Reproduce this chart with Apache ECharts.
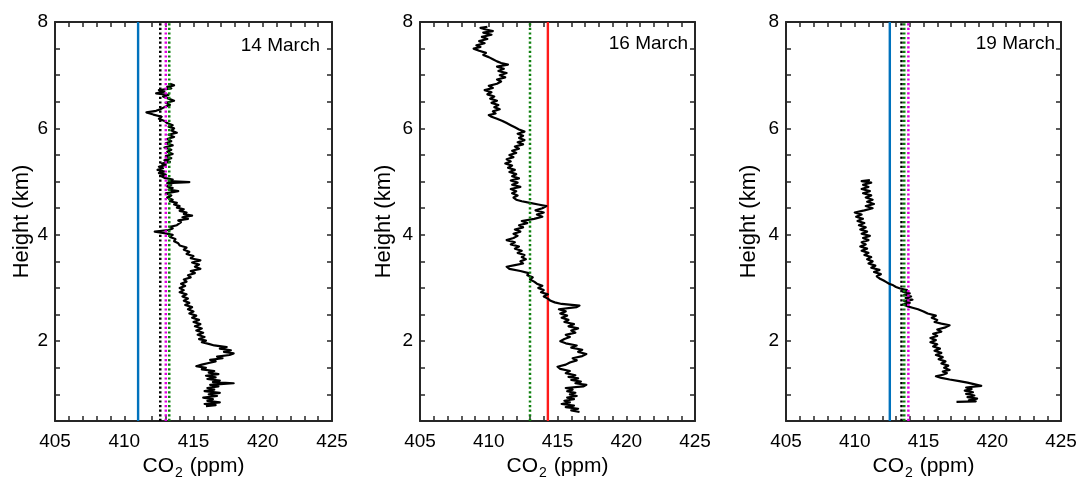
<!DOCTYPE html>
<html>
<head>
<meta charset="utf-8">
<script src="https://cdn.jsdelivr.net/npm/echarts@6/dist/echarts.min.js"></script>
<style>html,body{margin:0;padding:0;background:#fff;}#c{width:1078px;height:479px;}</style>
</head>
<body>
<div id="c"></div>
<script>
// ---------- DATA ----------
var panelTitles = ['14 March', '16 March', '19 March'];
var xTickLabels = [405, 410, 415, 420, 425];
var yTickLabels = [2, 4, 6, 8];
var X_MIN = 405, X_MAX = 425, Y_MIN = 0.5, Y_MAX = 8;

// profile pairs: [height km, CO2 ppm]
var profile14 = [
[0.78,415.9],[0.80,416.6],[0.82,415.8],[0.85,416.9],[0.88,416.0],[0.91,416.4],[0.94,415.7],[0.97,416.7],[1.00,416.1],[1.03,416.9],
[1.06,415.8],[1.09,416.5],[1.12,416.0],[1.15,416.8],[1.18,416.2],[1.21,417.9],[1.23,416.4],[1.26,416.9],[1.29,416.0],[1.32,416.6],
[1.35,415.9],[1.38,416.8],[1.41,416.1],[1.44,416.5],[1.47,415.6],[1.50,415.9],[1.53,415.2],[1.56,415.6],[1.59,416.1],[1.62,416.6],
[1.65,416.2],[1.68,417.1],[1.71,416.7],[1.74,417.6],[1.77,417.9],[1.80,417.2],[1.83,417.7],[1.86,416.9],[1.89,417.4],[1.92,416.5],
[1.95,416.1],[1.98,415.6],[2.01,415.9],[2.04,415.4],[2.08,415.8],[2.12,415.3],[2.16,415.7],[2.20,415.2],[2.24,415.6],[2.28,415.1],
[2.32,415.5],[2.36,415.0],[2.40,415.4],[2.44,414.9],[2.48,415.2],[2.52,414.7],[2.56,415.0],[2.60,414.6],[2.64,414.9],[2.68,414.4],
[2.72,414.7],[2.76,414.3],[2.80,414.6],[2.84,414.2],[2.88,414.5],[2.92,414.0],[2.96,414.3],[3.00,414.0],[3.04,414.4],[3.08,414.1],
[3.12,414.5],[3.16,414.3],[3.20,414.8],[3.24,414.6],[3.28,415.1],[3.32,414.8],[3.36,415.5],[3.40,415.1],[3.44,415.4],[3.48,414.9],
[3.52,415.5],[3.56,414.8],[3.60,415.0],[3.64,414.5],[3.68,414.7],[3.72,414.3],[3.76,414.5],[3.80,414.0],[3.84,413.9],[3.88,413.6],
[3.92,413.7],[3.96,413.3],[4.00,413.5],[4.03,412.9],[4.06,412.2],[4.09,413.2],[4.12,413.5],[4.15,413.3],[4.18,413.8],[4.21,413.7],
[4.24,414.1],[4.27,413.9],[4.30,414.6],[4.33,414.2],[4.36,414.9],[4.39,414.3],[4.42,414.5],[4.45,414.0],[4.48,414.3],[4.51,413.8],
[4.54,414.0],[4.57,413.6],[4.60,413.8],[4.63,413.3],[4.66,413.5],[4.70,413.1],[4.74,413.4],[4.78,413.0],[4.82,413.9],[4.85,413.2],
[4.88,413.5],[4.91,413.1],[4.94,413.4],[4.97,413.1],[4.99,414.7],[5.01,413.2],[5.04,413.5],[5.07,412.9],[5.10,412.7],[5.13,413.0],
[5.16,412.5],[5.19,412.9],[5.22,412.4],[5.25,412.8],[5.28,412.5],[5.31,413.0],[5.34,412.7],[5.37,413.3],[5.40,412.9],[5.44,413.4],
[5.48,413.0],[5.52,413.5],[5.56,413.1],[5.60,413.4],[5.64,412.9],[5.68,413.5],[5.72,413.0],[5.76,413.4],[5.80,413.1],[5.84,413.6],
[5.88,413.2],[5.92,413.8],[5.96,413.4],[6.00,413.6],[6.03,413.2],[6.06,413.5],[6.10,413.1],[6.14,412.9],[6.18,412.5],[6.22,412.7],
[6.26,412.1],[6.30,411.6],[6.33,412.3],[6.36,412.6],[6.40,412.9],[6.44,413.3],[6.48,413.0],[6.52,413.6],[6.56,413.2],[6.60,412.8],
[6.63,413.2],[6.66,412.3],[6.69,412.9],[6.72,412.5],[6.75,413.4],[6.78,413.1],[6.81,413.6],[6.84,413.3]
];

var profile16 = [
[0.67,416.6],[0.70,416.0],[0.73,416.5],[0.76,415.6],[0.79,416.2],[0.82,415.3],[0.85,415.9],[0.88,415.5],[0.91,416.2],[0.94,415.7],
[0.97,416.4],[1.00,415.9],[1.03,416.3],[1.06,415.7],[1.09,416.1],[1.12,415.6],[1.15,416.9],[1.18,417.1],[1.21,416.3],[1.24,416.7],
[1.27,416.0],[1.30,416.5],[1.33,415.8],[1.36,416.3],[1.40,415.6],[1.44,415.9],[1.48,415.2],[1.52,415.0],[1.56,415.6],[1.60,415.9],
[1.64,416.4],[1.68,416.1],[1.72,416.8],[1.76,417.1],[1.80,416.5],[1.84,416.8],[1.88,416.0],[1.92,416.4],[1.96,415.6],[2.00,415.2],
[2.04,415.5],[2.08,415.9],[2.12,415.6],[2.16,416.3],[2.20,416.0],[2.24,416.5],[2.28,415.8],[2.32,416.2],[2.36,415.5],[2.40,415.8],
[2.44,415.3],[2.48,415.7],[2.52,415.2],[2.56,415.6],[2.60,415.1],[2.64,416.4],[2.67,416.6],[2.70,415.3],[2.73,414.8],[2.76,414.5],
[2.80,414.3],[2.84,414.0],[2.88,414.3],[2.92,413.8],[2.96,414.0],[3.00,413.6],[3.04,413.9],[3.08,413.5],[3.12,413.3],[3.16,413.0],
[3.20,413.2],[3.24,412.8],[3.28,412.9],[3.32,412.3],[3.36,411.5],[3.40,411.3],[3.43,411.9],[3.46,412.5],[3.50,412.3],[3.54,412.7],
[3.58,412.4],[3.62,412.6],[3.66,412.1],[3.70,412.4],[3.74,411.9],[3.78,412.2],[3.82,411.6],[3.86,411.9],[3.90,411.3],[3.94,411.8],
[3.98,412.1],[4.02,411.8],[4.06,412.3],[4.10,411.9],[4.14,412.5],[4.18,412.2],[4.22,412.8],[4.26,412.4],[4.30,413.3],[4.34,413.9],
[4.38,413.5],[4.42,414.0],[4.46,413.4],[4.50,413.9],[4.54,414.2],[4.57,413.6],[4.60,413.0],[4.63,412.4],[4.66,412.0],[4.70,411.8],
[4.74,412.1],[4.78,411.7],[4.82,412.0],[4.86,411.6],[4.90,412.3],[4.94,411.7],[4.98,412.1],[5.02,411.6],[5.06,412.2],[5.10,411.7],
[5.14,412.0],[5.18,411.5],[5.22,411.9],[5.26,411.4],[5.30,411.7],[5.34,411.2],[5.38,411.6],[5.42,411.3],[5.46,411.8],[5.50,411.5],
[5.54,412.0],[5.58,411.7],[5.62,412.2],[5.66,411.9],[5.70,412.5],[5.74,412.1],[5.78,412.6],[5.82,412.2],[5.86,412.5],[5.90,412.1],
[5.94,412.6],[5.98,412.2],[6.02,411.9],[6.06,411.6],[6.10,411.3],[6.14,411.0],[6.18,410.6],[6.22,410.2],[6.25,410.0],[6.28,410.5],
[6.32,410.3],[6.36,410.8],[6.40,410.4],[6.44,410.7],[6.48,410.2],[6.52,410.6],[6.56,410.1],[6.60,410.4],[6.64,409.9],[6.68,410.2],
[6.72,409.7],[6.76,410.3],[6.80,410.0],[6.84,410.6],[6.88,410.9],[6.92,410.6],[6.96,411.2],[7.00,410.8],[7.04,411.3],[7.08,410.7],
[7.12,411.1],[7.16,410.6],[7.20,411.4],[7.23,410.9],[7.26,410.6],[7.30,410.3],[7.34,410.0],[7.38,409.6],[7.42,409.8],[7.46,409.3],
[7.50,408.9],[7.53,409.4],[7.56,409.1],[7.60,409.7],[7.64,409.3],[7.68,409.9],[7.72,409.5],[7.76,410.2],[7.80,409.6],[7.83,410.3],
[7.86,409.8],[7.89,409.4],[7.91,409.9]
];

var profile19 = [
[0.86,417.4],[0.87,418.8],[0.89,418.3],[0.92,418.9],[0.95,418.2],[0.98,418.7],[1.01,418.1],[1.04,418.6],[1.07,418.0],[1.10,418.5],
[1.13,418.1],[1.16,419.2],[1.19,419.3],[1.22,418.2],[1.25,417.6],[1.28,416.9],[1.31,416.3],[1.34,415.9],[1.37,416.4],[1.40,416.7],
[1.43,416.4],[1.46,416.9],[1.50,416.5],[1.54,416.8],[1.58,416.3],[1.62,416.6],[1.66,416.1],[1.70,416.4],[1.74,415.9],[1.78,416.3],
[1.82,415.8],[1.86,416.2],[1.90,415.7],[1.94,416.0],[1.98,415.5],[2.02,415.9],[2.06,415.5],[2.10,416.0],[2.14,415.7],[2.18,416.3],
[2.22,416.0],[2.26,416.6],[2.30,416.9],[2.33,416.3],[2.36,415.8],[2.40,416.0],[2.44,415.6],[2.48,415.9],[2.52,415.3],[2.56,415.0],
[2.60,414.6],[2.63,414.2],[2.66,413.8],[2.69,413.5],[2.72,414.0],[2.75,413.6],[2.78,414.2],[2.81,413.7],[2.84,414.1],[2.87,413.6],
[2.90,414.0],[2.93,413.5],[2.96,413.8],[2.99,413.3],[3.02,413.0],[3.05,412.8],[3.08,412.5],[3.11,412.3],[3.14,412.1],[3.18,411.8],
[3.22,411.6],[3.26,411.9],[3.30,411.4],[3.34,411.8],[3.38,411.2],[3.42,411.5],[3.46,411.0],[3.50,411.3],[3.54,410.9],[3.58,411.2],
[3.62,410.7],[3.66,411.0],[3.70,410.5],[3.74,410.9],[3.78,410.4],[3.82,410.8],[3.86,410.5],[3.90,411.0],[3.94,410.6],[3.98,411.1],
[4.02,410.5],[4.06,410.9],[4.10,410.4],[4.14,410.8],[4.18,410.3],[4.22,410.7],[4.26,410.2],[4.30,410.6],[4.34,410.1],[4.38,410.5],
[4.42,410.0],[4.46,410.7],[4.50,411.3],[4.54,410.8],[4.58,411.4],[4.62,410.9],[4.66,411.3],[4.70,410.8],[4.74,411.2],[4.78,410.6],
[4.82,411.1],[4.86,410.5],[4.90,411.0],[4.94,410.6],[4.98,411.2],[5.01,410.5],[5.03,411.1]
];

// reference lines (CO2 ppm)
var solidRefs = [
  [{value: 411.0, color: '#0072BD'}],
  [{value: 414.3, color: '#FF1A1A'}],
  [{value: 412.55, color: '#0072BD'}]
];
var dottedRefs = [
  [{value: 412.6, color: '#000000'}, {value: 413.0, color: '#E000E0'}, {value: 413.25, color: '#0F800F'}],
  [{value: 413.0, color: '#0F800F'}],
  [{value: 413.4, color: '#000000'}, {value: 413.9, color: '#E000E0'}, {value: 413.6, color: '#0F800F'}]
];
var profiles = [profile14, profile16, profile19];

// ---------- CHART ----------
var gridLefts = [55, 420, 786];
var gridWidths = [277, 275, 275];
var yNameGaps = [22, 25, 26];
var titleRight = [320, 688, 1055];
var titleY = [46, 44, 44];

var xTicks = [], yTicks = [];
for (var t = X_MIN; t <= X_MAX; t++) xTicks.push(t);
for (var u = 1; u <= Y_MAX; u += 0.5) yTicks.push(u);

var AX = '#262626';
var FONT = 'Liberation Sans, Arial, sans-serif';

var grids = [], xAxes = [], yAxes = [], series = [], graphics = [];
for (var i = 0; i < 3; i++) {
  grids.push({left: gridLefts[i], top: 22, width: gridWidths[i], height: 399, containLabel: false, outerBoundsMode: 'none'});
  var common = {
    axisLine: {show: true, lineStyle: {color: AX, width: 2}},
    splitLine: {show: false}
  };
  // bottom x
  xAxes.push(Object.assign({}, common, {
    type: 'value', gridIndex: i, position: 'bottom', min: X_MIN, max: X_MAX, interval: 5,
    axisTick: {show: true, inside: true, length: 5, lineStyle: {color: AX, width: 1.5}, customValues: xTicks},
    axisLabel: {show: true, fontSize: 19, color: '#000', fontFamily: FONT, margin: 11, customValues: xTickLabels},
    name: '{a|CO}{b|2}{a| (ppm)}', nameLocation: 'middle', nameGap: 31,
    nameTextStyle: {fontFamily: FONT, color: '#000', rich: {
      a: {fontSize: 21, fontFamily: FONT, color: '#000'},
      b: {fontSize: 14, fontFamily: FONT, color: '#000', padding: [14, 1, 0, 1]}
    }}
  }));
  // top x (mirror)
  xAxes.push(Object.assign({}, common, {
    type: 'value', gridIndex: i, position: 'top', min: X_MIN, max: X_MAX, interval: 5,
    axisTick: {show: true, inside: true, length: 5, lineStyle: {color: AX, width: 1.5}, customValues: xTicks},
    axisLabel: {show: false}
  }));
  // left y
  yAxes.push(Object.assign({}, common, {
    type: 'value', gridIndex: i, position: 'left', min: Y_MIN, max: Y_MAX,
    axisTick: {show: true, inside: true, length: 5, lineStyle: {color: AX, width: 1.5}, customValues: yTicks},
    axisLabel: {show: true, fontSize: 19, color: '#000', fontFamily: FONT, margin: 7, customValues: yTickLabels},
    name: 'Height (km)', nameLocation: 'middle', nameGap: yNameGaps[i],
    nameTextStyle: {fontSize: 22, color: '#000', fontFamily: FONT}
  }));
  // right y (mirror)
  yAxes.push(Object.assign({}, common, {
    type: 'value', gridIndex: i, position: 'right', min: Y_MIN, max: Y_MAX,
    axisTick: {show: true, inside: true, length: 5, lineStyle: {color: AX, width: 1.5}, customValues: yTicks},
    axisLabel: {show: false}
  }));

  var xi = i * 2, yi = i * 2;
  solidRefs[i].forEach(function (r) {
    series.push({type: 'line', xAxisIndex: xi, yAxisIndex: yi, data: [[r.value, Y_MIN], [r.value, Y_MAX]],
      showSymbol: false, symbol: 'none', silent: true, z: 2,
      lineStyle: {color: r.color, width: 2.4}});
  });
  series.push({type: 'line', xAxisIndex: xi, yAxisIndex: yi,
    data: profiles[i].map(function (p) { return [p[1], p[0]]; }),
    showSymbol: false, symbol: 'none', silent: true, z: 3,
    lineStyle: {color: '#000', width: 2.2, join: 'round'}});
  dottedRefs[i].forEach(function (r) {
    series.push({type: 'line', xAxisIndex: xi, yAxisIndex: yi, data: [[r.value, Y_MIN], [r.value, Y_MAX]],
      showSymbol: false, symbol: 'none', silent: true, z: 4,
      lineStyle: {color: r.color, width: 2.5, type: [2.2, 2.4]}});
  });
  graphics.push({type: 'text', x: titleRight[i], y: titleY[i], z: 10,
    style: {text: panelTitles[i], fill: '#000', font: '19px ' + FONT, align: 'right', verticalAlign: 'middle'}});
}

var chart = echarts.init(document.getElementById('c'), null, {renderer: 'canvas'});
chart.setOption({
  animation: false,
  backgroundColor: '#fff',
  grid: grids, xAxis: xAxes, yAxis: yAxes, series: series, graphic: graphics
});
</script>
</body>
</html>
